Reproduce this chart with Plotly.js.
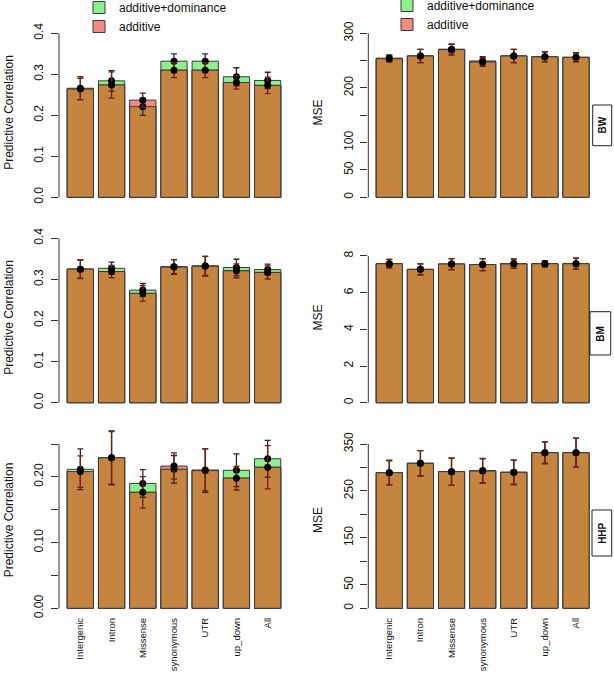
<!DOCTYPE html>
<html><head><meta charset="utf-8">
<script src="https://cdn.plot.ly/plotly-3.0.1.min.js"></script>
<style>html,body{margin:0;padding:0;background:#fff;}#chart{width:614px;height:673px;}</style>
</head><body><div id="chart"></div>
<script>
// ---------- DATA ----------
const categories = ['Intergenic','Intron','Missense','synonymous','UTR','up_down','All'];
const seriesNames = ['additive+dominance','additive'];

const bwCorAD    = [0.264, 0.284, 0.221, 0.332, 0.332, 0.294, 0.285];
const bwCorA     = [0.266, 0.274, 0.237, 0.310, 0.310, 0.280, 0.273];
const bwCorADerr = [0.026, 0.025, 0.021, 0.018, 0.018, 0.022, 0.020];
const bwCorAerr  = [0.028, 0.032, 0.017, 0.018, 0.018, 0.016, 0.020];

const bwMseAD    = [253.5, 258.5, 270.0, 249.5, 258.5, 257.2, 256.0];
const bwMseA     = [254.5, 258.5, 271.0, 247.5, 258.5, 257.0, 256.0];
const bwMseADerr = [6, 12, 10, 8, 12, 9, 8];
const bwMseAerr  = [6, 12, 9, 8, 12, 9, 8];

const bmCorAD    = [0.325, 0.327, 0.274, 0.330, 0.332, 0.329, 0.324];
const bmCorA     = [0.325, 0.319, 0.266, 0.331, 0.333, 0.321, 0.317];
const bmCorADerr = [0.022, 0.015, 0.016, 0.018, 0.024, 0.020, 0.013];
const bmCorAerr  = [0.023, 0.015, 0.019, 0.017, 0.023, 0.017, 0.016];

const bmMseAD    = [7.58, 7.27, 7.56, 7.53, 7.57, 7.58, 7.58];
const bmMseA     = [7.58, 7.27, 7.56, 7.53, 7.59, 7.58, 7.58];
const bmMseADerr = [0.23, 0.30, 0.30, 0.33, 0.25, 0.17, 0.30];
const bmMseAerr  = [0.23, 0.30, 0.30, 0.33, 0.25, 0.17, 0.30];

const hhpCorAD    = [0.2115, 0.229, 0.190, 0.2115, 0.2095, 0.210, 0.2276];
const hhpCorA     = [0.208, 0.229, 0.1765, 0.2165, 0.2105, 0.198, 0.2146];
const hhpCorADerr = [0.031, 0.041, 0.021, 0.021, 0.033, 0.025, 0.028];
const hhpCorAerr  = [0.024, 0.040, 0.024, 0.020, 0.032, 0.018, 0.033];

const hhpMseAD    = [288.9, 308.9, 291.0, 292.5, 289.7, 331.5, 331.5];
const hhpMseA     = [288.9, 308.9, 291.0, 293.5, 289.7, 331.5, 331.5];
const hhpMseADerr = [26, 27, 29, 26, 26, 23, 31];
const hhpMseAerr  = [26, 27, 29, 26, 26, 23, 31];

// tick values / labels
const corTicks = [0, 0.1, 0.2, 0.3, 0.4];
const corTickText = ['0.0','0.1','0.2','0.3','0.4'];
const bwMseTicks = [0, 50, 100, 150, 200, 250, 300];
const bwMseTickText = ['0','50','100','','200','','300'];
const bmMseTicks = [0, 2, 4, 6, 8];
const bmMseTickText = ['0','2','4','6','8'];
const hhpCorTicks = [0, 0.05, 0.10, 0.15, 0.20, 0.25];
const hhpCorTickText = ['0.00','','0.10','','0.20',''];
const hhpMseTicks = [0, 50, 100, 150, 200, 250, 300, 350];
const hhpMseTickText = ['0','50','','150','','250','','350'];
const traitLabels = ['BW','BM','HHP'];

// ---------- STYLE / LAYOUT ----------
const W = 614, H = 673;
const GREEN = '#8CF08C', RED = '#F28A82', BROWN = '#C68441', EDGE = '#3a3a3a';
const FONT = 'Liberation Sans, Arial, Helvetica, sans-serif';

const panels = [
  {ad:bwCorAD, a:bwCorA, ade:bwCorADerr, ae:bwCorAerr, ticks:corTicks, tt:corTickText, title:'Predictive Correlation', zero:197.3, ppu:410, top:20, bot:205, left:true, legend:'legend'},
  {ad:bwMseAD, a:bwMseA, ade:bwMseADerr, ae:bwMseAerr, ticks:bwMseTicks, tt:bwMseTickText, title:'MSE', zero:197.3, ppu:164/300, top:20, bot:205, left:false, legend:'legend2'},
  {ad:bmCorAD, a:bmCorA, ade:bmCorADerr, ae:bmCorAerr, ticks:corTicks, tt:corTickText, title:'Predictive Correlation', zero:402.7, ppu:411, top:225, bot:410, left:true},
  {ad:bmMseAD, a:bmMseA, ade:bmMseADerr, ae:bmMseAerr, ticks:bmMseTicks, tt:bmMseTickText, title:'MSE', zero:402.7, ppu:18.34, top:225, bot:410, left:false},
  {ad:hhpCorAD, a:hhpCorA, ade:hhpCorADerr, ae:hhpCorAerr, ticks:hhpCorTicks, tt:hhpCorTickText, title:'Predictive Correlation', zero:608.3, ppu:657.2, top:425, bot:615, left:true, xlabels:true},
  {ad:hhpMseAD, a:hhpMseA, ade:hhpMseADerr, ae:hhpMseAerr, ticks:hhpMseTicks, tt:hhpMseTickText, title:'MSE', zero:608.3, ppu:0.4694, top:425, bot:615, left:false, xlabels:true}
];

const traces = [];
const layout = {
  width: W, height: H,
  margin: {l:0, r:0, t:0, b:0, autoexpand:false},
  paper_bgcolor: '#fff', plot_bgcolor: 'rgba(0,0,0,0)',
  barmode: 'overlay', bargap: 0.16,
  font: {family: FONT, color: '#111', size: 12},
  showlegend: true,
  legend: {x: 79/W, y: 1 + 7/H, xanchor:'left', yanchor:'top', bgcolor:'rgba(0,0,0,0)', font:{size:12, family:FONT}, traceorder:'normal', tracegroupgap:0, itemwidth:30},
  legend2: {x: 387/W, y: 1 + 9/H, xanchor:'left', yanchor:'top', bgcolor:'rgba(0,0,0,0)', font:{size:12, family:FONT}, traceorder:'normal', tracegroupgap:0, itemwidth:30},
  shapes: [], annotations: []
};

panels.forEach((p, i) => {
  const n = i + 1;
  const xs = n === 1 ? 'x' : 'x' + n;
  const ys = n === 1 ? 'y' : 'y' + n;
  const xk = n === 1 ? 'xaxis' : 'xaxis' + n;
  const yk = n === 1 ? 'yaxis' : 'yaxis' + n;
  const axisPx = p.left ? 59 : 368.3;
  const rightPx = p.left ? 290 : 600;
  const c0 = p.left ? 80.35 : 389.3;
  const unit = p.left ? 31.22 : 31.12;
  layout[xk] = {
    domain: [axisPx / W, rightPx / W],
    range: [(axisPx - c0) / unit, (rightPx - c0) / unit],
    type: 'category', anchor: ys,
    showgrid:false, zeroline:false, showline:false,
    ticks:'', showticklabels: !!p.xlabels,
    tickangle: -90, tickfont:{size:9.5, family:FONT, color:'#111'},
    fixedrange:true
  };
  layout[yk] = {
    domain: [1 - p.bot / H, 1 - p.top / H],
    range: [(p.zero - p.bot) / p.ppu, (p.zero - p.top) / p.ppu],
    anchor: xs,
    showgrid:false, zeroline:false, showline:false,
    ticks:'outside', ticklen:7, tickwidth:1, tickcolor:'#333',
    tickmode:'array', tickvals:p.ticks, ticktext:p.tt,
    tickangle:-90, tickfont:{size:12, family:FONT, color:'#111'},
    ticklabelstandoff: 3,
    title:{text:p.title, font:{size:12, family:FONT, color:'#111'}, standoff: 16},
    automargin:false, fixedrange:true
  };
  // axis line only across tick range (R style)
  layout.shapes.push({type:'line', xref: xs + ' domain', yref: ys, x0:0, x1:0,
    y0:p.ticks[0], y1:p.ticks[p.ticks.length-1], line:{color:'#333', width:1}});

  const overlap = p.ad.map((v, k) => Math.min(v, p.a[k]));
  const showLeg = !!p.legend;
  traces.push({type:'bar', name:seriesNames[0], x:categories, y:p.ad, xaxis:xs, yaxis:ys,
    marker:{color:GREEN, line:{color:EDGE, width:1}}, showlegend:showLeg, legend:p.legend || 'legend', hoverinfo:'skip'});
  traces.push({type:'bar', name:seriesNames[1], x:categories, y:p.a, xaxis:xs, yaxis:ys,
    marker:{color:RED, line:{color:EDGE, width:1}}, showlegend:showLeg, legend:p.legend || 'legend', hoverinfo:'skip'});
  traces.push({type:'bar', name:'overlap', x:categories, y:overlap, xaxis:xs, yaxis:ys,
    marker:{color:BROWN, line:{color:EDGE, width:1}}, showlegend:false, hoverinfo:'skip'});
  traces.push({type:'scatter', mode:'markers', x:categories, y:p.ad, xaxis:xs, yaxis:ys,
    marker:{color:'#000', size:7}, showlegend:false, cliponaxis:false, hoverinfo:'skip',
    error_y:{type:'data', array:p.ade, visible:true, color:'#2a2a2a', thickness:1.3, width:3}});
  traces.push({type:'scatter', mode:'markers', x:categories, y:p.a, xaxis:xs, yaxis:ys,
    marker:{color:'#000', size:7}, showlegend:false, cliponaxis:false, hoverinfo:'skip',
    error_y:{type:'data', array:p.ae, visible:true, color:'#7a1c0c', thickness:1.3, width:3}});
});

// trait boxes on the right
const boxes = [
  {x0:592.7, x1:611.7, y0:105, y1:145.7},
  {x0:590,   x1:610.7, y0:311.7, y1:355},
  {x0:592,   x1:611.7, y0:510, y1:556}
];
boxes.forEach((b, i) => {
  layout.shapes.push({type:'rect', xref:'paper', yref:'paper',
    x0:b.x0/W, x1:b.x1/W, y0:1-b.y1/H, y1:1-b.y0/H,
    line:{color:'#222', width:1}, fillcolor:'#fff'});
  layout.annotations.push({xref:'paper', yref:'paper',
    x:(b.x0+b.x1)/2/W, y:1-(b.y0+b.y1)/2/H, xanchor:'center', yanchor:'middle',
    text:'<b>' + traitLabels[i] + '</b>', textangle:-90, showarrow:false,
    font:{size:10, family:FONT, color:'#111'}});
});

Plotly.newPlot('chart', traces, layout, {staticPlot:true, displayModeBar:false});
</script>
</body></html>
